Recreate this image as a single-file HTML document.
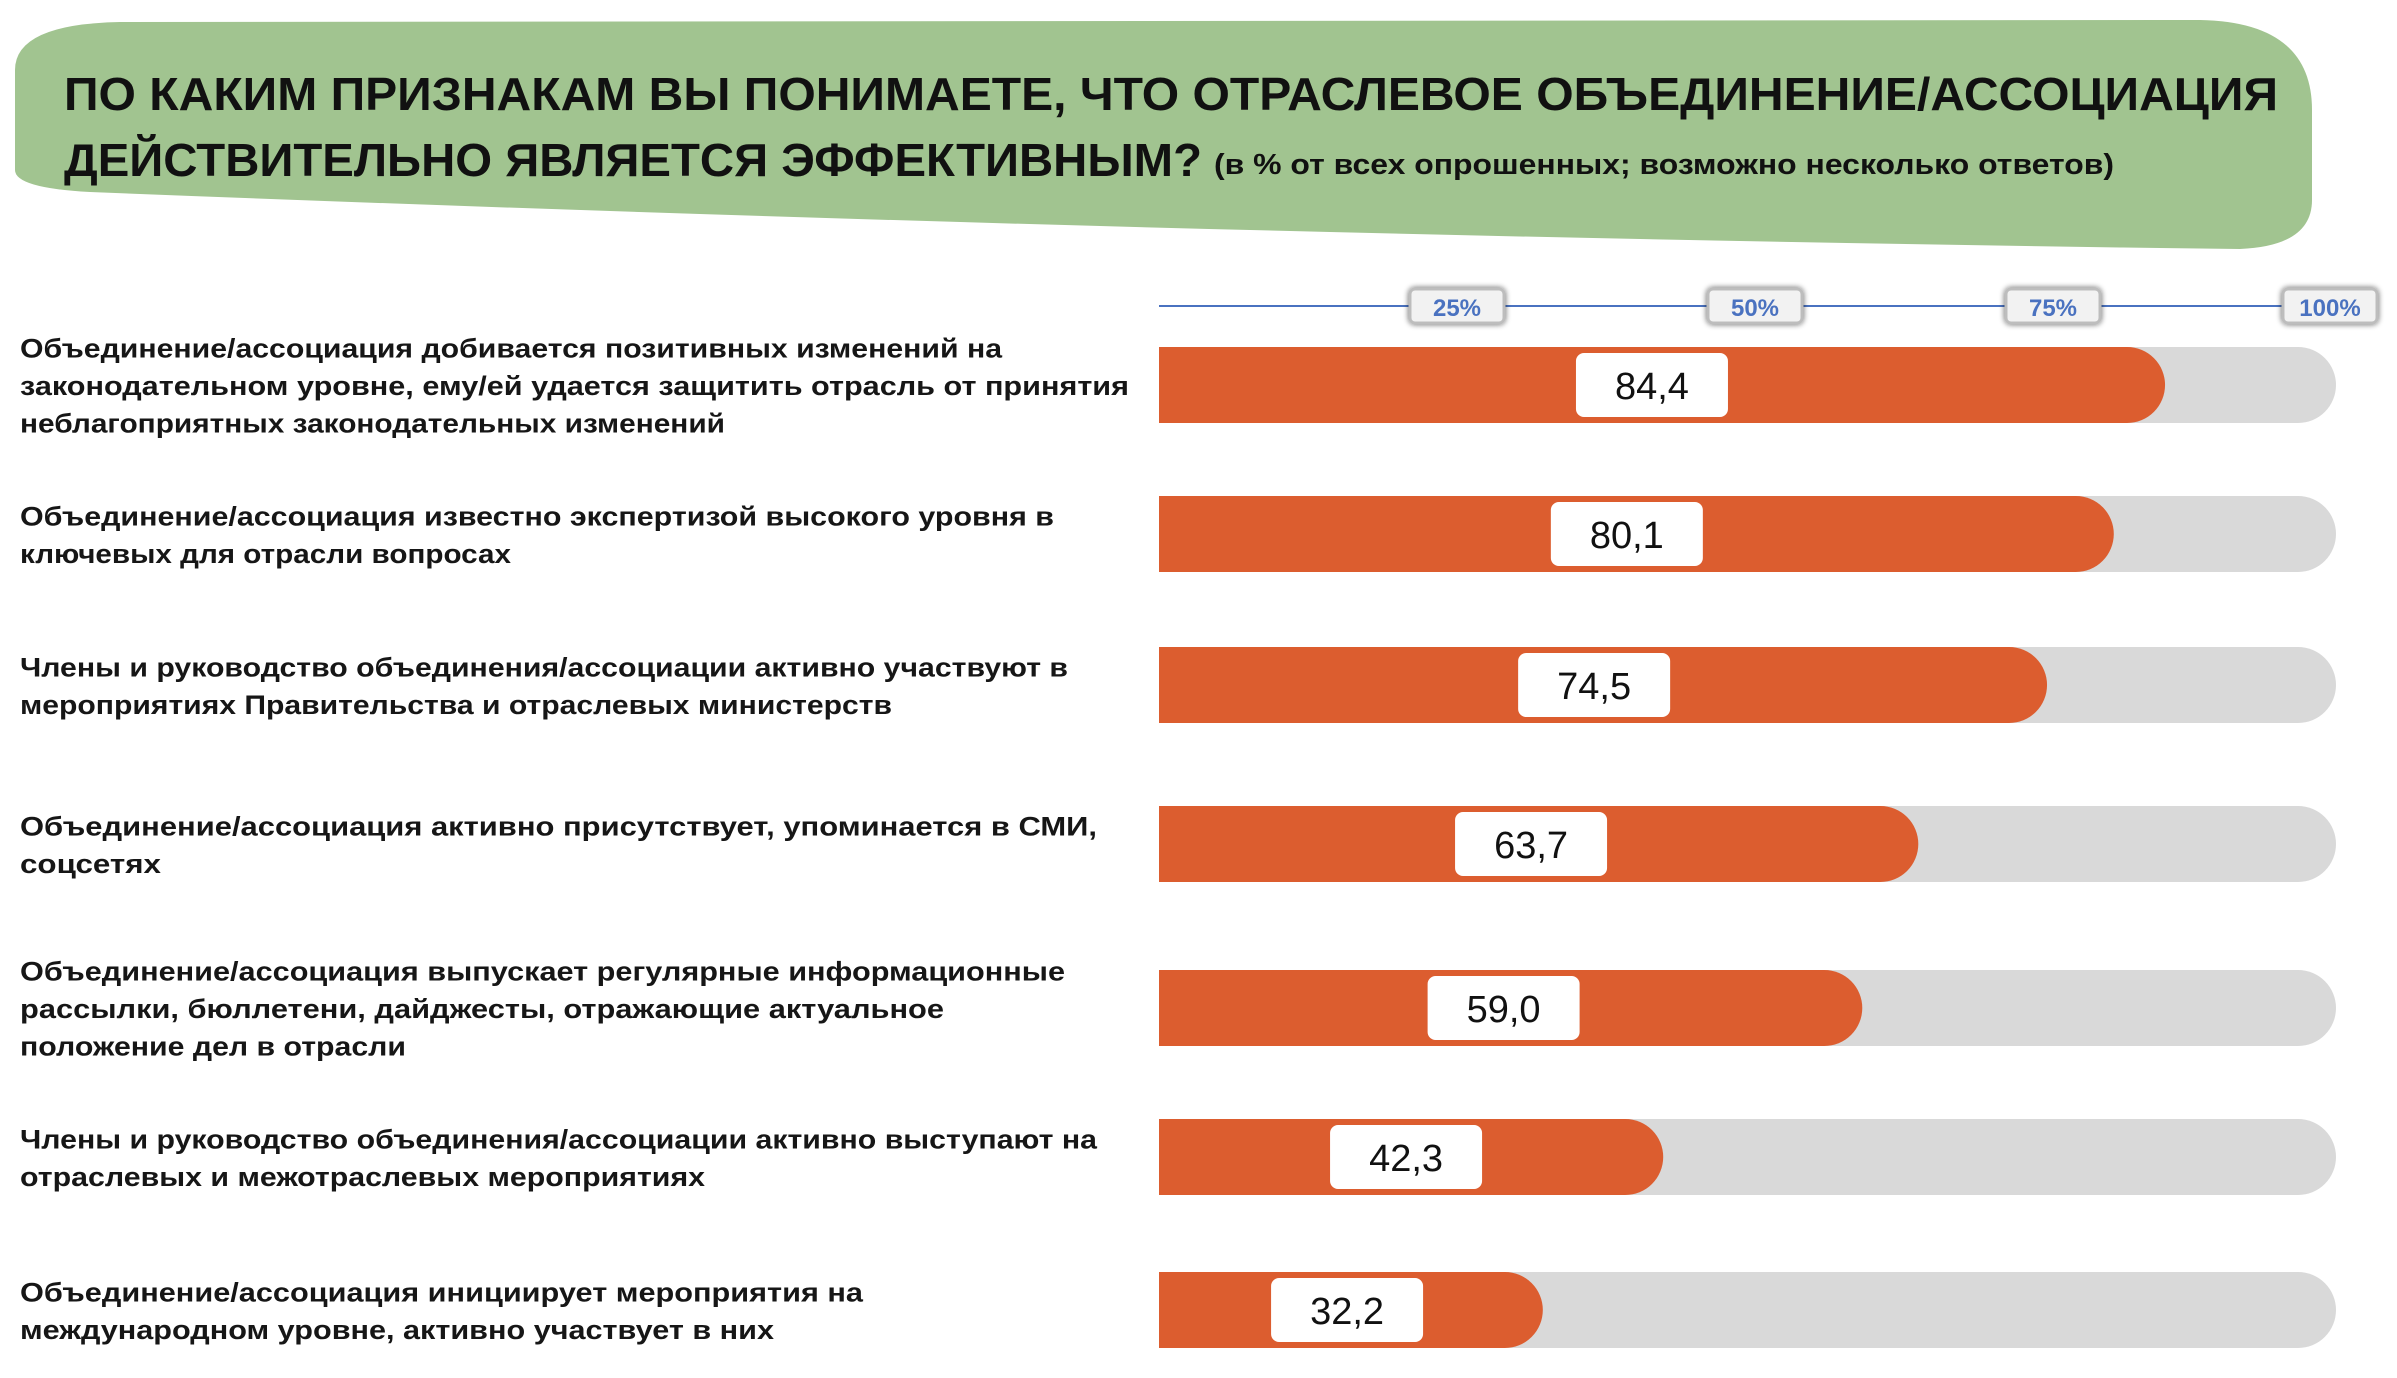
<!DOCTYPE html>
<html><head><meta charset="utf-8">
<style>
html,body{margin:0;padding:0;background:#fff;}
svg{display:block;}
text{font-family:"Liberation Sans","DejaVu Sans",sans-serif;}
</style></head>
<body>
<svg id="chart" width="2397" height="1378" viewBox="0 0 2397 1378" xmlns="http://www.w3.org/2000/svg">
  <defs>
    <filter id="tickShadow" x="-30%" y="-40%" width="160%" height="180%">
      <feGaussianBlur in="SourceAlpha" stdDeviation="3"/>
      <feOffset dx="0" dy="0"/>
      <feComponentTransfer><feFuncA type="linear" slope="0.6"/></feComponentTransfer>
      <feMerge><feMergeNode/><feMergeNode in="SourceGraphic"/></feMerge>
    </filter>
  </defs>
  <path fill="#a1c490"
        d="M15,70 Q15,24 120,22 L2200,20 Q2312,22 2312,110 L2312,200 Q2312,246 2240,249 Q1200,236 90,192 Q15,188 15,170 Z"/>
  <text x="64" y="110" font-size="46" font-weight="bold" fill="#111" textLength="2214" lengthAdjust="spacingAndGlyphs">ПО КАКИМ ПРИЗНАКАМ ВЫ ПОНИМАЕТЕ, ЧТО ОТРАСЛЕВОЕ ОБЪЕДИНЕНИЕ/АССОЦИАЦИЯ</text>
  <text x="64" y="176" font-size="46" font-weight="bold" fill="#111" textLength="1138" lengthAdjust="spacingAndGlyphs">ДЕЙСТВИТЕЛЬНО ЯВЛЯЕТСЯ ЭФФЕКТИВНЫМ?</text>
  <text x="1214" y="174" font-size="29" font-weight="bold" fill="#111" textLength="900" lengthAdjust="spacingAndGlyphs">(в % от всех опрошенных; возможно несколько ответов)</text>
  <g id="axis"></g>
  <g id="bars"></g>
  <g id="labels"></g>
</svg>
<script>
const categories = [
  ["Объединение/ассоциация добивается позитивных изменений на","законодательном уровне, ему/ей удается защитить отрасль от принятия","неблагоприятных законодательных изменений"],
  ["Объединение/ассоциация известно экспертизой высокого уровня в","ключевых для отрасли вопросах"],
  ["Члены и руководство объединения/ассоциации активно участвуют в","мероприятиях Правительства и отраслевых министерств"],
  ["Объединение/ассоциация активно присутствует, упоминается в СМИ,","соцсетях"],
  ["Объединение/ассоциация выпускает регулярные информационные","рассылки, бюллетени, дайджесты, отражающие актуальное","положение дел в отрасли"],
  ["Члены и руководство объединения/ассоциации активно выступают на","отраслевых и межотраслевых мероприятиях"],
  ["Объединение/ассоциация инициирует мероприятия на","международном уровне, активно участвует в них"]
];
const values = [84.4, 80.1, 74.5, 63.7, 59.0, 42.3, 32.2];
const valueLabels = ["84,4","80,1","74,5","63,7","59,0","42,3","32,2"];
const tickValues = [25, 50, 75, 100];
const tickLabels = ["25%","50%","75%","100%"];

const NS = "http://www.w3.org/2000/svg";
const X0 = 1159, PX100 = 1192, TRACK_END = 2336, BAR_H = 76;
const rowCenters = [385, 534, 685, 844, 1008, 1157, 1310];
const lineWidths = [[982,1109,705],[1034,491],[1048,872],[1077,141],[1045,924,386],[1077,685],[843,754]];
function xScale(v){ return X0 + v / 100 * PX100; }
function el(tag, attrs, parent){
  const e = document.createElementNS(NS, tag);
  for (const k in attrs) e.setAttribute(k, attrs[k]);
  parent.appendChild(e);
  return e;
}
const axisG = document.getElementById('axis');
const barsG = document.getElementById('bars');
const labelsG = document.getElementById('labels');

const axisLine = el('line', {x1: X0, y1: 306, x2: 2367, y2: 306, stroke: '#4a72c0', 'stroke-width': 2}, axisG);


tickValues.forEach((t, i) => {
  const cx = Math.min(xScale(t), 2330);
  const g = el('g', {}, axisG);
  
  
  el('rect', {x: cx - 47, y: 289, width: 94, height: 34, rx: 5, fill: '#f2f2f2', stroke: '#bdbdbd', 'stroke-width': 3, filter: 'url(#tickShadow)'}, g);
  const tx = el('text', {x: cx, y: 316, 'text-anchor': 'middle', 'font-size': 24, 'font-weight': 'bold', fill: '#4a72c0'}, g);
  tx.textContent = tickLabels[i];
});

values.forEach((v, i) => {
  const cy = rowCenters[i];
  const y = cy - BAR_H / 2, r = BAR_H / 2;
  const g = el('g', {}, barsG);
  
  
  const track = el('path', {d: `M${X0},${y} H${TRACK_END - r} A${r},${r} 0 0 1 ${TRACK_END - r},${y + BAR_H} H${X0} Z`, fill: '#d9d9d9'}, g);
  
  
  const xe = xScale(v);
  const bar = el('path', {d: `M${X0},${y} H${xe - r} A${r},${r} 0 0 1 ${xe - r},${y + BAR_H} H${X0} Z`, fill: '#dc5d2f'}, g);
  
  
  const lx = X0 + (xe - X0) * 0.49;
  const box = el('rect', {x: lx - 76, y: cy - 32, width: 152, height: 64, rx: 8, fill: '#ffffff'}, g);
  
  
  const t = el('text', {x: lx, y: cy + 14, 'text-anchor': 'middle', 'font-size': 38, fill: '#111'}, g);
  
  
  t.textContent = valueLabels[i];

  const lines = categories[i];
  const n = lines.length, LH = 37.5;
  const lg = el('g', {}, labelsG);
  
  
  lines.forEach((ln, j) => {
    const ly = cy - (n - 1) * LH / 2 + j * LH + 10;
    const tt = el('text', {x: 20, y: ly, 'font-size': 27, 'font-weight': 'bold', fill: '#161616', textLength: lineWidths[i][j], lengthAdjust: 'spacingAndGlyphs'}, lg);
    tt.textContent = ln;
  });
});
</script>
</body></html>
